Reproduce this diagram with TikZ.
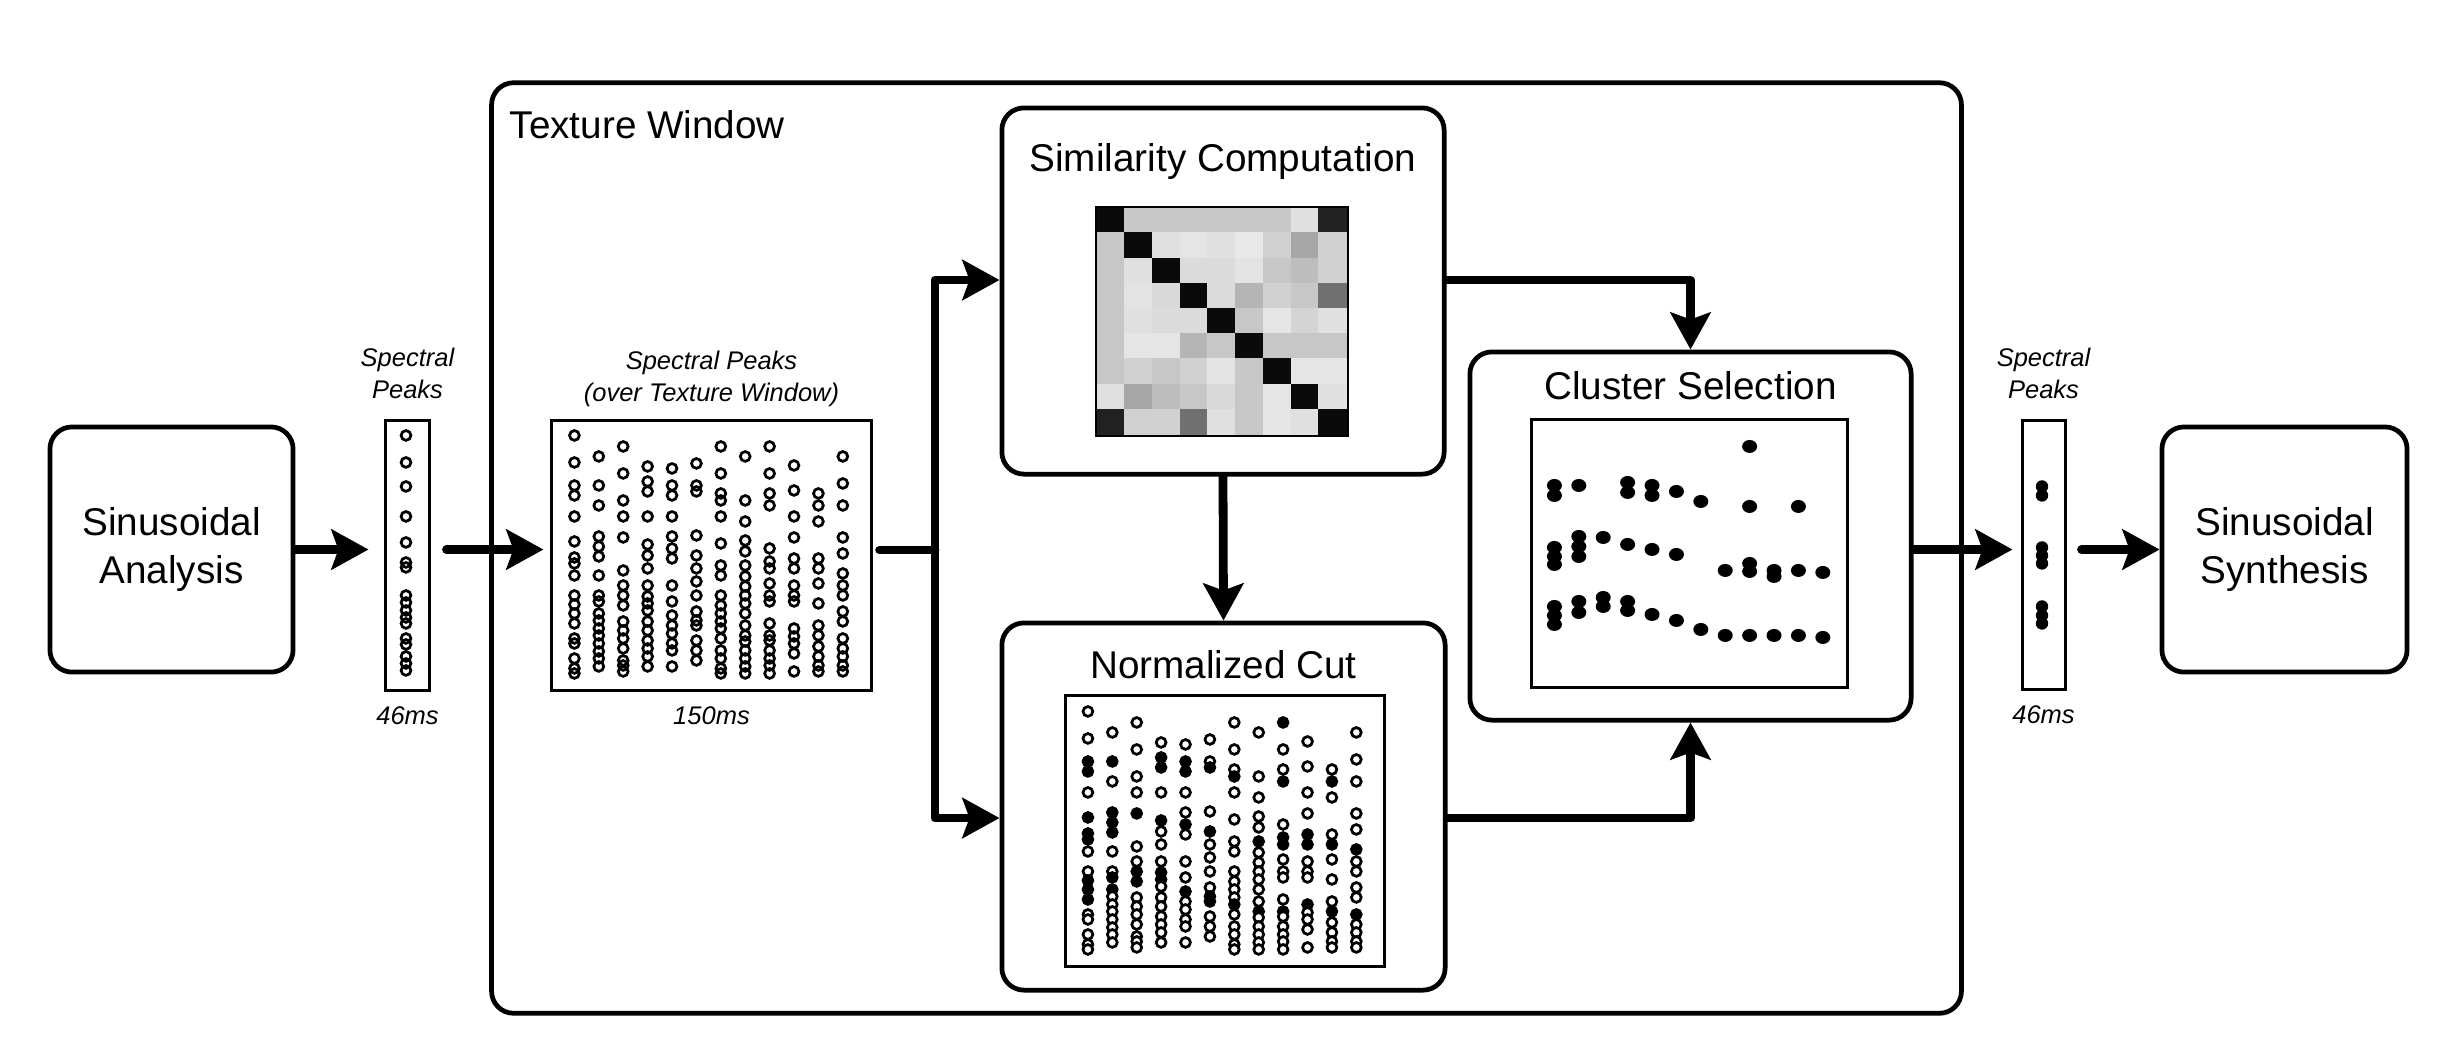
\documentclass[tikz,border=0pt]{standalone}
\usepackage{fontspec}
\setmainfont{Liberation Sans}
\usetikzlibrary{arrows.meta,positioning}

% peak tracks over the texture window: column/{offset/selected,...}
\newcommand{\peaktracks}{%
1/{16/0,43/0,66/1,76/1,97/0,122/1,138/1,144/1,156/0,176/0,185/1,194/1,204/1,219/0,224/0,239/0,249/0,254/0},%
2/{37/0,66/1,86/0,117/1,127/1,137/1,156/0,176/0,182/1,194/1,201/0,209/0,216/0,224/0,232/0,239/0,247/0},%
3/{27/0,54/0,81/0,97/0,118/1,151/0,166/0,176/1,186/1,202/0,211/0,219/0,229/0,241/0,246/0,252/0},%
4/{47/0,62/1,72/1,97/0,125/1,136/0,149/0,166/0,177/1,184/1,191/0,202/0,211/0,221/0,229/0,237/0,247/0},%
5/{49/0,66/1,76/1,97/0,117/0,129/1,139/0,166/0,182/0,196/1,206/0,214/0,224/0,231/0,247/0},%
6/{44/0,66/0,72/1,116/0,136/1,149/0,162/0,176/0,192/0,201/1,206/1,221/0,231/0,241/0},%
7/{27/0,54/0,74/0,81/1,97/0,124/0,146/0,156/0,176/0,186/0,194/0,202/0,209/1,219/0,231/0,239/0,249/0,254/0},%
8/{37/0,81/0,102/0,121/0,132/0,146/1,157/0,167/0,176/0,184/0,194/0,206/0,216/1,222/0,231/0,239/0,247/0,254/0},%
9/{27/1,54/0,74/0,86/1,129/0,142/1,149/1,164/0,176/0,182/0,204/0,216/1,221/0,231/0,239/0,246/0,254/0},%
10/{46/0,71/0,97/0,118/0,139/1,149/1,166/0,176/0,182/0,209/1,217/0,224/0,234/0,252/0},%
11/{74/0,86/1,102/0,139/0,149/1,164/0,184/0,206/0,216/1,227/0,237/0,246/0,252/0},%
12/{37/0,64/0,86/0,118/0,134/0,154/1,166/0,176/0,192/0,202/0,219/1,229/0,237/0,246/0,252/0}}

% similarity matrix, percent black per cell
\newcommand{\simrows}{%
1/{96,22,22,22,22,22,22,12,87},%
2/{22,96,12,10,12,9,18,35,18},%
3/{22,12,96,14,14,11,22,26,18},%
4/{22,11,15,96,14,29,18,22,56},%
5/{22,12,14,14,96,22,10,17,12},%
6/{22,10,10,29,22,96,22,22,22},%
7/{22,18,22,18,11,22,96,10,10},%
8/{12,35,26,22,15,22,10,96,12},%
9/{87,18,18,56,12,22,10,12,96}}

% selected peaks: column/offset
\newcommand{\clusterpeaks}{%
1/67,1/77,2/67,4/64,4/74,5/67,5/77,6/73,7/83,9/28,9/88,11/88,%
1/129,1/138,1/146,2/118,2/128,2/138,3/119,4/126,5/131,6/136,8/152,9/145,9/153,10/152,10/158,11/152,12/154,%
1/188,1/197,1/206,2/183,2/194,3/179,3/188,4/183,4/192,5/196,6/202,7/211,8/217,9/217,10/217,11/217,12/219}

\begin{document}
\begin{tikzpicture}[x=0.01cm, y=-0.01cm,
    stage/.style={draw, line width=1.35pt, rounded corners=0.22cm, align=center, font=\fontsize{11}{13.5}\selectfont},
    plotframe/.style={draw, line width=0.85pt, inner sep=0pt},
    title/.style={inner sep=0pt, font=\fontsize{11}{13.5}\selectfont},
    note/.style={inner sep=0pt, align=center, font=\fontsize{7.25}{9}\selectfont\itshape},
    trunk/.style={line width=2.5pt, line cap=round, line join=round},
    flow/.style={trunk, -{Stealth[length=0.37cm,width=0.4cm,inset=0.07cm]}},
    peak/.style={line width=0.78pt},
    dot0/.style={draw, fill=white},
    dot1/.style={draw, fill=black}]

        \useasboundingbox (0,0) rectangle (2460,1056);

        % Nodes
        \node[stage, minimum width=14.69cm, minimum height=9.3cm] (texwin) at (1226.5,548) {};
        \node[title, anchor=north west] (texlabel) at (509,110) {Texture Window};
        \node[stage, minimum width=2.43cm, minimum height=2.45cm] (analysis) at (171.5,549.5) {Sinusoidal\\Analysis};
        \node[stage, minimum width=2.45cm, minimum height=2.45cm] (synthesis) at (2284.5,549.5) {Sinusoidal\\Synthesis};
        \node[stage, minimum width=4.42cm, minimum height=3.66cm] (simbox) at (1223,291) {};
        \node[stage, minimum width=4.43cm, minimum height=3.67cm] (ncutbox) at (1223.5,806.5) {};
        \node[stage, minimum width=4.41cm, minimum height=3.68cm] (clusterbox) at (1690.5,536) {};
        \node[title, below=0.37cm of simbox.north] (simtitle) {Similarity Computation};
        \node[title, below=0.29cm of ncutbox.north] (ncuttitle) {Normalized Cut};
        \node[title, below=0.21cm of clusterbox.north] (clustertitle) {Cluster Selection};

        \node[plotframe, minimum width=0.43cm, minimum height=2.69cm] (framesin) at (407.5,555.5) {};
        \node[plotframe, minimum width=3.19cm, minimum height=2.69cm] (framewin) at (711.5,555.5) {};
        \node[plotframe, minimum width=3.19cm, minimum height=2.70cm] (framencut) at (1225,831) {};
        \node[plotframe, minimum width=3.15cm, minimum height=2.67cm] (framecluster) at (1689.5,553.5) {};
        \node[plotframe, minimum width=0.43cm, minimum height=2.68cm] (frameout) at (2043.5,555) {};
        \node[inner sep=0pt, minimum width=2.5cm, minimum height=2.27cm] (simmat) at (1222,321.5) {};

        \node[note, above=0.2cm of framesin] (capin) {Spectral\\Peaks};
        \node[note, below=0.14cm of framesin] (timein) {46ms};
        \node[note, above=0.12cm of framewin] (capwin) {Spectral Peaks\\(over Texture Window)};
        \node[note, below=0.14cm of framewin] (timewin) {150ms};
        \node[note, above=0.2cm of frameout] (capout) {Spectral\\Peaks};
        \node[note, below=0.14cm of frameout] (timeout) {46ms};

        % Plots
        \begin{scope}[shift={(framesin.north west)}]
            \foreach \y in {16,43,67,97,123,143,148,176,183,191,198,204,219,225,237,244,251}
                \draw[peak] (21.5,\y) circle[radius=0.049cm];
        \end{scope}
        \begin{scope}[shift={(framewin.north west)}]
            \foreach \c/\track in \peaktracks
                \foreach \y/\f in \track
                    \draw[peak] ({24+24.4*(\c-1)},\y) circle[radius=0.049cm];
        \end{scope}
        \begin{scope}[shift={(simmat.north west)}]
            \foreach \r/\row in \simrows
                \foreach \v [count=\c] in \row
                    \fill[black!\v] ({27.78*(\c-1)},{25.2*(\r-1)}) rectangle +(28.3,25.7);
        \end{scope}
        \draw[line width=0.5pt] (simmat.north west) rectangle (simmat.south east);
        \begin{scope}[shift={(framencut.north west)}]
            \foreach \c/\track in \peaktracks
                \foreach \y/\f in \track
                    \draw[peak, dot\f] ({24+24.4*(\c-1)},{\y+1}) circle[radius=0.049cm];
        \end{scope}
        \begin{scope}[shift={(framecluster.north west)}]
            \foreach \c/\y in \clusterpeaks
                \fill ({24+24.4*(\c-1)},\y) ellipse[x radius=0.075cm, y radius=0.065cm];
        \end{scope}
        \begin{scope}[shift={(frameout.north west)}]
            \foreach \y in {67,76,128,136,144,187,196,204}
                \fill (21.5,\y) circle[radius=0.062cm];
        \end{scope}

        % Edges
        \coordinate (split) at (935,550);
        \draw[flow, shorten >=0.16cm] (analysis.east) -- (framesin.west |- analysis.east);
        \draw[flow, shorten <=0.16cm, shorten >=0.07cm] (framesin.east |- analysis.east) -- (framewin.west |- analysis.east);
        \draw[trunk, shorten <=0.07cm] (framewin.east |- split) -- (split);
        \draw[flow] (split) |- ([yshift=0.11cm]simbox.west);
        \draw[flow] (split) |- ([yshift=-0.115cm]ncutbox.west);
        \draw[flow] (simbox.south) -- (ncutbox.north);
        \draw[flow] ([yshift=0.11cm]simbox.east) -| (clusterbox.north);
        \draw[flow] ([yshift=-0.115cm]ncutbox.east) -| (clusterbox.south);
        \draw[flow, shorten >=0.08cm] (clusterbox.east |- analysis.east) -- (frameout.west |- analysis.east);
        \draw[flow, shorten <=0.15cm] (frameout.east |- synthesis.west) -- (synthesis.west);
    \end{tikzpicture}
\end{document}
